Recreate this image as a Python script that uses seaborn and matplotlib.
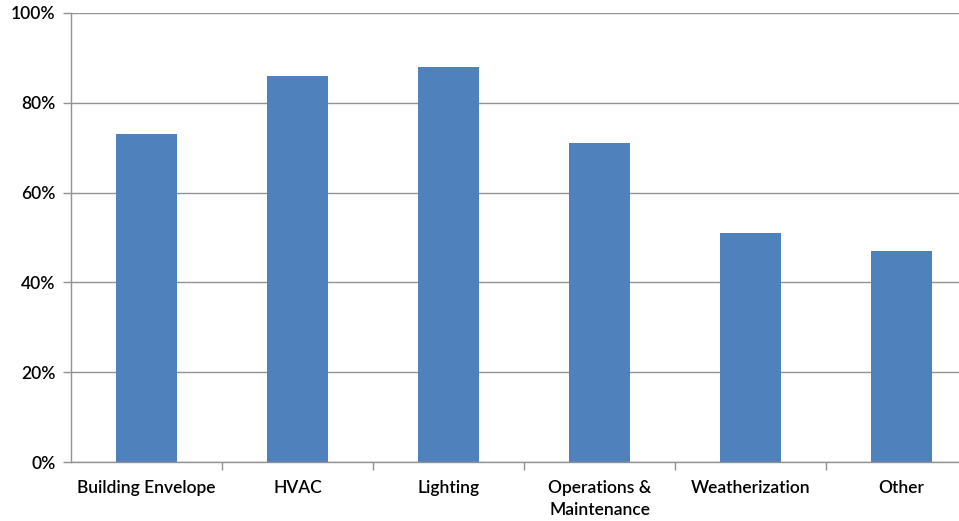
import matplotlib
matplotlib.use("Agg")
import matplotlib.pyplot as plt
import seaborn as sns
import pandas as pd

categories = ["Building Envelope", "HVAC", "Lighting", "Operations &\nMaintenance",
              "Weatherization", "Other"]
shares = [73, 86, 88, 71, 51, 47]
y_ticks = [0, 20, 40, 60, 80, 100]
y_tick_labels = ["0%", "20%", "40%", "60%", "80%", "100%"]

sns.set_theme(style="white")
plt.rcParams["font.family"] = ["Lato", "DejaVu Sans"]

df = pd.DataFrame({"category": categories, "share": shares})

fig = plt.figure(figsize=(9.59, 5.21), dpi=100)
ax = fig.add_axes([0.074, 0.1132, 0.945, 0.862])

sns.barplot(data=df, x="category", y="share", color="#4F81BD", saturation=1,
            width=0.4, linewidth=0, ax=ax)

grid_color = "#929292"
ax.set_ylim(0, 100)
ax.set_xlim(-0.5, len(categories) - 0.5)
ax.set_yticks(y_ticks)
ax.set_yticklabels(y_tick_labels)
ax.yaxis.grid(True, color=grid_color, linewidth=1)
ax.set_axisbelow(True)

# Category boundary ticks on the x axis
ax.set_xticks([i - 0.5 for i in range(1, len(categories))], minor=True)
ax.tick_params(axis="x", which="minor", length=6, width=1, color=grid_color,
               direction="out", bottom=True)
ax.tick_params(axis="x", which="major", length=0, pad=13, labelcolor="black")
ax.tick_params(axis="y", which="major", length=6, width=1, color=grid_color,
               direction="out", left=True, pad=5, labelcolor="black")

for lbl in ax.get_xticklabels():
    lbl.set_fontsize(12.5)
    lbl.set_fontweight("semibold")
    lbl.set_linespacing(1.45)
for lbl in ax.get_yticklabels():
    lbl.set_fontsize(12.5)
    lbl.set_fontweight("semibold")

for side in ["top", "right"]:
    ax.spines[side].set_visible(False)
for side in ["left", "bottom"]:
    ax.spines[side].set_color(grid_color)
    ax.spines[side].set_linewidth(1)

ax.set_xlabel("")
ax.set_ylabel("")

fig.savefig("out.png", dpi=100)
